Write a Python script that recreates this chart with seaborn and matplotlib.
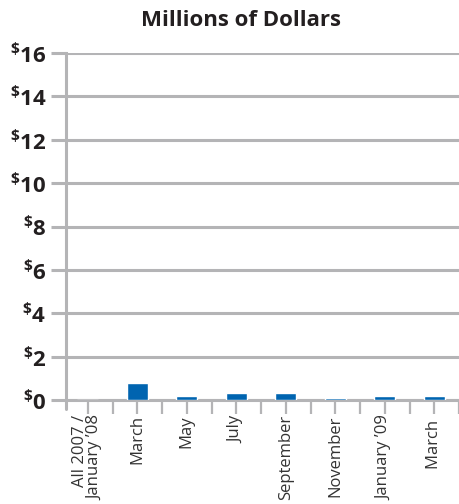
import pandas as pd
import matplotlib.pyplot as plt
import seaborn as sns

# chart data
months = ["All 2007 /\nJanuary \u201908", "March", "May", "July", "September",
          "November", "January \u201909", "March "]
millions = [0.0, 0.8, 0.2, 0.3, 0.3, 0.1, 0.2, 0.2]
yticks = [0, 2, 4, 6, 8, 10, 12, 14, 16]

sns.set_style("white")
plt.rcParams['font.family'] = ['Open Sans', 'DejaVu Sans']
plt.rcParams['mathtext.fontset'] = 'custom'
plt.rcParams['mathtext.rm'] = 'Open Sans:bold'
plt.rcParams['mathtext.bf'] = 'Open Sans:bold'

grey = "#b4b4b6"
dark = "#231f20"
df = pd.DataFrame({"month": months, "value": millions})

fig = plt.figure(figsize=(4.59, 5.04), dpi=100)
ax = fig.add_axes([66 / 459, 104 / 504, 393 / 459, 347 / 504])

sns.barplot(data=df, x="month", y="value", color="#0064b0", width=0.42,
            saturation=1, ax=ax, zorder=3)

ax.set_xlim(-0.44, 7.42)
ax.set_ylim(0, 16)

# horizontal grid, reaching left past the axis as tick marks
ax.set_yticks(yticks)
ax.set_yticklabels([r"$^{\$}$" + str(v) for v in yticks], fontsize=16,
                   fontweight="bold", color=dark)
ax.yaxis.grid(True, color=grey, linewidth=2.2, zorder=0)
ax.tick_params(axis="y", length=11, width=2.2, color=grey, pad=3, left=True)

# category ticks at centres and boundaries
ax.set_xticks(range(len(months)))
ax.set_xticks([i + 0.5 for i in range(len(months))], minor=True)
ax.set_xticklabels(months, rotation=90, fontsize=12, color="#333333",
                   ha="center", va="top", multialignment="right",
                   linespacing=0.95)
ax.tick_params(axis="x", which="both", length=10, width=1.6, color=grey,
               bottom=True, pad=1)

for side in ["top", "right"]:
    ax.spines[side].set_visible(False)
ax.spines["bottom"].set_color(grey)
ax.spines["bottom"].set_linewidth(2.2)
ax.spines["bottom"].set_zorder(1)
ax.spines["left"].set_color(grey)
ax.spines["left"].set_linewidth(2.2)
ax.axvline(-0.44, ymin=-0.025, ymax=0, color=grey, linewidth=2.2, clip_on=False)

ax.set_xlabel("")
ax.set_ylabel("")
fig.text(241 / 459, 1 - 20 / 504, "Millions of Dollars", ha="center",
         va="center", fontsize=16, fontweight="bold", color=dark)

fig.savefig("out.png", dpi=100)
